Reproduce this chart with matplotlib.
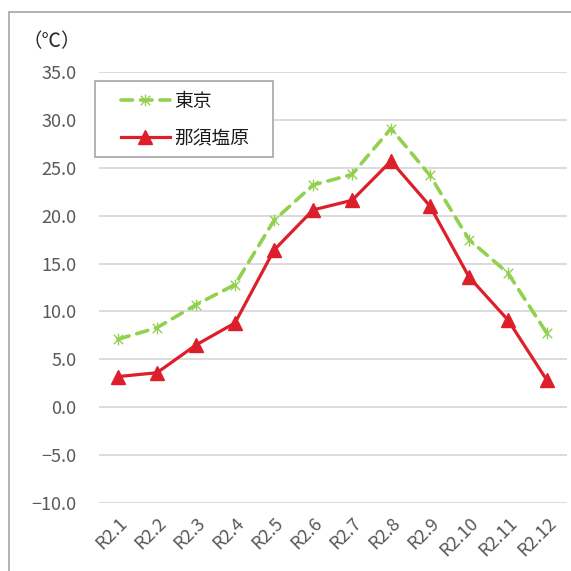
import matplotlib
matplotlib.use('Agg')
import matplotlib.pyplot as plt
from matplotlib.path import Path
from matplotlib.patches import Rectangle

plt.rcParams['font.family'] = ['Noto Sans CJK JP', 'DejaVu Sans']

months = ['R2.1', 'R2.2', 'R2.3', 'R2.4', 'R2.5', 'R2.6',
          'R2.7', 'R2.8', 'R2.9', 'R2.10', 'R2.11', 'R2.12']
tokyo = [7.1, 8.3, 10.7, 12.8, 19.5, 23.2, 24.3, 29.1, 24.2, 17.5, 14.0, 7.7]
nasu = [3.2, 3.6, 6.5, 8.8, 16.4, 20.6, 21.6, 25.7, 21.0, 13.6, 9.1, 2.8]
yticks = [35, 30, 25, 20, 15, 10, 5, 0, -5, -10]

GREEN = '#92d050'
RED = '#dc1f2b'
GRAY = '#595959'
W = 571.

# excel-style star: an X with a vertical bar through it
star = Path([(-1, -1), (1, 1), (-1, 1), (1, -1), (0, -1.25), (0, 1.25)],
            [Path.MOVETO, Path.LINETO, Path.MOVETO, Path.LINETO,
             Path.MOVETO, Path.LINETO])

fig = plt.figure(figsize=(5.71, 5.71), dpi=100)
fig.patches.append(Rectangle((9/W, -0.1), 1.2, 1 - 12/W + 0.1,
                             transform=fig.transFigure, fill=False,
                             edgecolor='#a6a6a6', linewidth=1.2))

ax = fig.add_axes([98.5/W, 1 - 503/W, 468/W, 431/W])
x = range(len(months))
ax.plot(x, tokyo, color=GREEN, lw=2.6, ls=(0, (3.2, 2.2)),
        dash_capstyle='round', marker=star, ms=8.5, mew=1.0,
        mec=GREEN, mfc='none', label=u'東京', zorder=3)
ax.plot(x, nasu, color=RED, lw=2.3, marker='^', ms=10,
        mec=RED, mfc=RED, label=u'那須塩原', zorder=4)

ax.set_xlim(-0.5, len(months) - 0.5)
ax.set_ylim(-10, 35)
ax.set_yticks(yticks)
ax.set_yticklabels(['%.1f' % v if v >= 0 else u'\u2212%.1f' % -v
                    for v in yticks])
ax.set_xticks(list(x))
ax.set_xticklabels(months, rotation=45, ha='right', va='top',
                   rotation_mode='anchor')
ax.tick_params(length=0, labelsize=13, labelcolor=GRAY)
ax.tick_params(axis='y', pad=16)
ax.tick_params(axis='x', pad=8)
ax.grid(axis='y', color='#d9d9d9', lw=1.3)
ax.set_axisbelow(True)
for s in ax.spines.values():
    s.set_visible(False)

fig.text(23/W, 1 - 42/W, u'（℃）', fontsize=14, color='#262626',
         va='center', ha='left')

# legend frame drawn separately so it can be wider than its contents
ax.add_patch(Rectangle((95/W, 1 - 157/W), 178/W, 76/W,
                       transform=fig.transFigure, fill=True,
                       facecolor='white', edgecolor='#a6a6a6',
                       linewidth=1.2, zorder=5, clip_on=False))
leg = ax.legend(loc='upper left', bbox_to_anchor=(121/W, 1 - 91/W),
                bbox_transform=fig.transFigure, fontsize=13.5, frameon=False,
                handlelength=2.6, borderpad=0, labelspacing=0.85,
                handletextpad=0.25, borderaxespad=0)
leg.set_zorder(6)
for t in leg.get_texts():
    t.set_color('#1a1a1a')

plt.savefig('out.png', dpi=100)
